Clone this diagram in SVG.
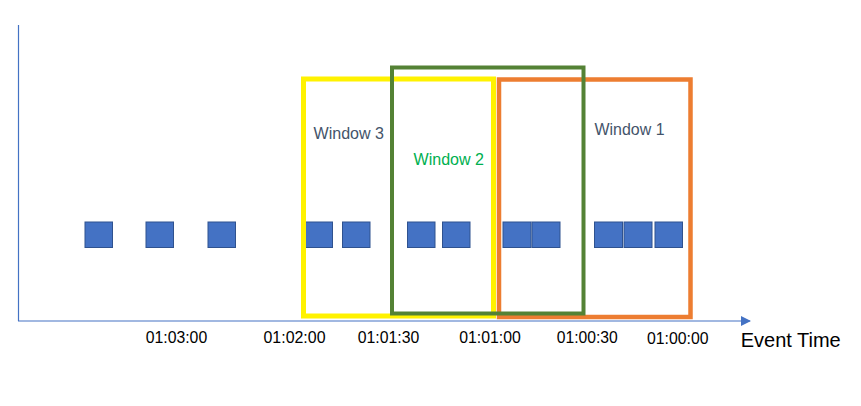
<svg xmlns="http://www.w3.org/2000/svg" width="861" height="406" viewBox="0 0 861 406">
<style>
.ev{fill:#4472C4;stroke:#2F528F;stroke-width:1}
.win{fill:none}
.lbl{font-family:"Liberation Sans",Arial,sans-serif;font-size:17px}
.tick{font-family:"Liberation Sans",Arial,sans-serif;font-size:16px;fill:#000}
.axis{stroke:#4472C4;stroke-width:1.2;fill:none}
</style>
<defs>
<marker id="arr" markerWidth="10" markerHeight="10" refX="9" refY="5" orient="auto" markerUnits="userSpaceOnUse">
<path d="M0,0 L10,5 L0,10 Z" fill="#4472C4"/>
</marker>
</defs>
<rect width="861" height="406" fill="#fff"/>
<g id="connectors">
<line class="axis" x1="18.5" y1="25" x2="18.5" y2="321"/>
<line class="axis" x1="18" y1="321" x2="750" y2="321" marker-end="url(#arr)"/>
</g>
<g id="events">
<rect class="ev" x="85" y="222" width="27.5" height="25.5"/>
<rect class="ev" x="146" y="222" width="27.5" height="25.5"/>
<rect class="ev" x="208" y="222" width="27.5" height="25.5"/>
<rect class="ev" x="305" y="222" width="27.5" height="25.5"/>
<rect class="ev" x="342.5" y="222" width="27.5" height="25.5"/>
<rect class="ev" x="407.5" y="222" width="27.5" height="25.5"/>
<rect class="ev" x="442.5" y="222" width="27.5" height="25.5"/>
<rect class="ev" x="503" y="222" width="28" height="25.5"/>
<rect class="ev" x="532" y="222" width="28" height="25.5"/>
<rect class="ev" x="594.5" y="222" width="28" height="25.5"/>
<rect class="ev" x="624" y="222" width="28" height="25.5"/>
<rect class="ev" x="655" y="222" width="27.5" height="25.5"/>
</g>
<g id="window3">
<rect class="win" x="303.5" y="79" width="190" height="237" stroke="#FFF200" stroke-width="5"/>
<text class="lbl" x="313.5" y="138.5" fill="#44546A" textLength="70.5" lengthAdjust="spacingAndGlyphs">Window 3</text>
</g>
<g id="window1">
<rect class="win" x="499" y="79.5" width="191.5" height="237.5" stroke="#ED7D31" stroke-width="4.5"/>
<text class="lbl" x="594.5" y="134.5" fill="#44546A" textLength="70" lengthAdjust="spacingAndGlyphs">Window 1</text>
</g>
<g id="window2">
<rect class="win" x="392" y="67.5" width="191.5" height="246" stroke="#548235" stroke-width="4"/>
<text class="lbl" x="413.5" y="164.5" fill="#00B050" textLength="70.5" lengthAdjust="spacingAndGlyphs">Window 2</text>
</g>
<g id="ticks">
<text class="tick" x="145.7" y="342.5" textLength="61.5" lengthAdjust="spacingAndGlyphs">01:03:00</text>
<text class="tick" x="263.5" y="342.5" textLength="62" lengthAdjust="spacingAndGlyphs">01:02:00</text>
<text class="tick" x="357.8" y="342.5" textLength="61.5" lengthAdjust="spacingAndGlyphs">01:01:30</text>
<text class="tick" x="459.3" y="342.5" textLength="61.5" lengthAdjust="spacingAndGlyphs">01:01:00</text>
<text class="tick" x="556.8" y="342.5" textLength="61" lengthAdjust="spacingAndGlyphs">01:00:30</text>
<text class="tick" x="647" y="344" textLength="61.5" lengthAdjust="spacingAndGlyphs">01:00:00</text>
<text x="740.7" y="346.5" font-family="Liberation Sans, Arial, sans-serif" font-size="20" fill="#000" textLength="100" lengthAdjust="spacingAndGlyphs">Event Time</text>
</g>
</svg>
